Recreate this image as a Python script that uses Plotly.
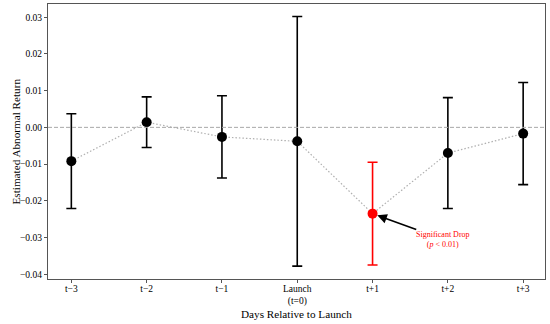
import plotly.graph_objects as go

days = ["t\u22123", "t\u22122", "t\u22121", "Launch<br>(t=0)", "t+1", "t+2", "t+3"]
estimates = [-0.0092, 0.0014, -0.0026, -0.0038, -0.0235, -0.0070, -0.0017]
ci_half = [0.0129, 0.0069, 0.0112, 0.0340, 0.0140, 0.0151, 0.0139]
colors = ["black", "black", "black", "black", "red", "black", "black"]

xs = list(range(len(days)))
FONT = "Liberation Serif, Times New Roman, serif"
W, H = 550, 324
ML, MR, MT, MB = 48, 5, 4, 45
plot_w = W - ML - MR
plot_h = H - MT - MB

fig = go.Figure()
fig.add_hline(y=0, line=dict(color="#a8a8a8", width=1, dash="4px,2px"))
fig.add_trace(go.Scatter(x=xs, y=estimates, mode="lines",
                         line=dict(color="#b0b0b0", width=1.2, dash="1.5px,2px"),
                         showlegend=False, hoverinfo="skip"))
for i in xs:
    fig.add_trace(go.Scatter(
        x=[xs[i]], y=[estimates[i]], mode="markers",
        marker=dict(color=colors[i], size=10),
        error_y=dict(type="data", array=[ci_half[i]], color=colors[i],
                     thickness=1.6, width=5),
        showlegend=False))

sig = 4
fig.add_annotation(x=xs[sig], y=estimates[sig], ax=4.6, ay=-0.028,
                   xref="x", yref="y", axref="x", ayref="y",
                   text="", showarrow=True, arrowhead=2, arrowsize=1.2,
                   arrowwidth=1.6, arrowcolor="black", standoff=5)
fig.add_annotation(x=4.94, y=-0.0305, xref="x", yref="y",
                   text="Significant Drop<br>(<i>p</i> < 0.01)", showarrow=False,
                   font=dict(family=FONT, size=8, color="red"), align="center")

# axis titles
fig.add_annotation(x=0.5, y=(H - MB - 314) / plot_h, xref="paper", yref="paper",
                   showarrow=False, yanchor="middle",
                   text="Days Relative to Launch", font=dict(family=FONT, size=11.2))
fig.add_annotation(x=(15 - ML) / plot_w, y=0.5, xref="paper", yref="paper",
                   showarrow=False, xanchor="center",
                   text="Estimated Abnormal Return", textangle=-90,
                   font=dict(family=FONT, size=11.2))

fig.update_layout(
    width=W, height=H,
    margin=dict(l=ML, r=MR, t=MT, b=MB),
    plot_bgcolor="white", paper_bgcolor="white",
    font=dict(family=FONT, size=9.5, color="black"),
    xaxis=dict(tickmode="array", tickvals=xs, ticktext=days, range=[-0.31, 6.29],
               showgrid=False, zeroline=False, showline=True, mirror=True,
               linecolor="#555555", linewidth=1.2, ticks="outside", ticklen=3,
               tickcolor="#555555", automargin=False, ticklabelstandoff=-3),
    yaxis=dict(range=[-0.0413, 0.0336], tickvals=[-0.04, -0.03, -0.02, -0.01, 0, 0.01, 0.02, 0.03],
               ticktext=["\u22120.04", "\u22120.03", "\u22120.02", "\u22120.01", "0.00", "0.01", "0.02", "0.03"],
               showgrid=False, zeroline=False, showline=True, mirror=True,
               linecolor="#555555", linewidth=1.2, ticks="outside", ticklen=3,
               tickcolor="#555555", automargin=False),
)
fig.write_html("out.html", config={"displayModeBar": False},
               post_script="document.body.style.margin='0px';")
